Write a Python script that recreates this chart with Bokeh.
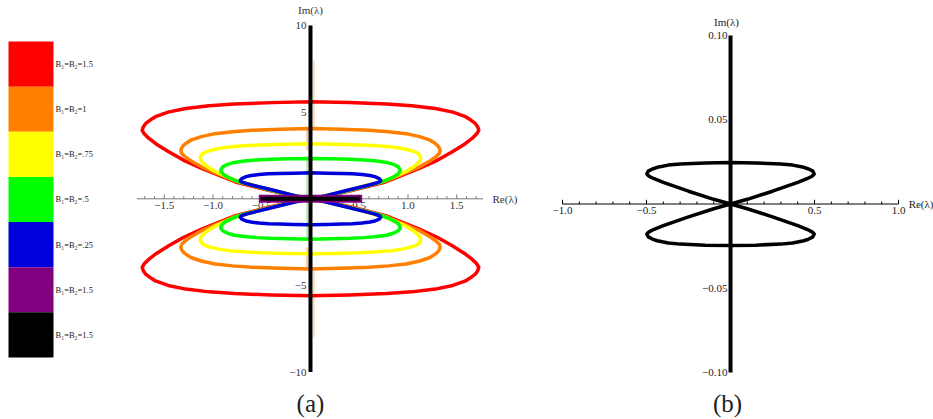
from bokeh.plotting import figure
from bokeh.layouts import row
from bokeh.models import Range1d
from bokeh.embed import file_html
from bokeh.resources import INLINE
from bokeh.core.properties import value

SERIF = value("Liberation Serif")

# ---- legend ----
legend_labels = ["B\u2081=B\u2082=1.5", "B\u2081=B\u2082=1", "B\u2081=B\u2082=.75",
                 "B\u2081=B\u2082=.5", "B\u2081=B\u2082=.25", "B\u2081=B\u2082=1.5",
                 "B\u2081=B\u2082=1.5"]
legend_colors = ["#ff0000", "#ff8000", "#ffff00", "#00ff00", "#0000dd", "#800080", "#000000"]

# ---- panel (a): one quarter of each loop (Re<=0, Im>=0), origin -> tip -> top ----
red_re = [0.00, -0.15, -0.43, -0.77, -1.11, -1.30, -1.45, -1.58, -1.66, -1.705, -1.726,
          -1.715, -1.69, -1.64, -1.59, -1.46, -1.28, -1.04, -0.78, -0.40, 0.00]
red_im = [0.00, 0.14, 0.49, 0.97, 1.74, 2.22, 2.70, 3.15, 3.50, 3.75, 3.95,
          4.15, 4.35, 4.56, 4.74, 5.00, 5.21, 5.37, 5.47, 5.55, 5.60]

orange_re = [0.00, -0.15, -0.43, -0.77, -1.11, -1.22, -1.285, -1.32, -1.33,
             -1.32, -1.30, -1.26, -1.22, -1.12, -0.98, -0.80, -0.60, -0.31, 0.00]
orange_im = [0.00, 0.15, 0.52, 1.02, 1.82, 2.17, 2.42, 2.62, 2.78,
             2.95, 3.10, 3.27, 3.40, 3.59, 3.76, 3.87, 3.95, 4.01, 4.05]

yellow_re = [0.00, -0.15, -0.43, -0.77, -0.97, -1.06, -1.105, -1.125, -1.13,
             -1.11, -1.08, -1.04, -0.955, -0.84, -0.68, -0.51, -0.26, 0.00]
yellow_im = [0.00, 0.16, 0.55, 1.07, 1.55, 1.86, 2.08, 2.24, 2.39,
             2.59, 2.69, 2.77, 2.89, 2.99, 3.06, 3.11, 3.15, 3.17]

green_re = [0.00, -0.15, -0.43, -0.70, -0.80, -0.865, -0.90, -0.915, -0.92,
            -0.90, -0.85, -0.78, -0.68, -0.55, -0.41, -0.21, 0.00]
green_im = [0.00, 0.16, 0.54, 0.92, 1.12, 1.30, 1.44, 1.56, 1.68,
            1.84, 1.99, 2.10, 2.18, 2.24, 2.28, 2.31, 2.33]

blue_re = [0.00, -0.15, -0.40, -0.56, -0.65, -0.695, -0.715, -0.72,
           -0.705, -0.66, -0.61, -0.53, -0.43, -0.32, -0.17, 0.00]
blue_im = [0.00, 0.17, 0.52, 0.74, 0.87, 0.95, 1.00, 1.06,
           1.17, 1.28, 1.34, 1.40, 1.44, 1.46, 1.48, 1.50]

# real-axis segments (purple and black) and the black imaginary-axis spectrum
purple_re = [-0.53, 0.53]
black_re = [-0.51, 0.51]
black_im = [-10.0, 10.0]

# faint imaginary-axis strands next to the black line
strand_colors = ["#ffb060", "#ff8000", "#40e040"]
strand_re = [0.035, -0.035, -0.035]
strand_lo = [4.05, 2.80, 0.20]
strand_hi = [8.00, 4.00, 2.30]

a_major = [-1.5, -1.0, -0.5, 0.5, 1.0, 1.5]
a_major_labels = ["\u22121.5", "\u22121.0", "\u22120.5", "0.5", "1.0", "1.5"]
a_minor = [round(-1.7 + 0.1 * i, 1) for i in range(35)]
a_yticks = [10, 5, -5, -10]
a_ylabels = ["10", "5", "\u22125", "\u221210"]

# ---- panel (b) ----
b_re = [0.00, -0.10, -0.25, -0.40, -0.455, -0.485, -0.498, -0.49, -0.465, -0.436,
        -0.37, -0.30, -0.15, 0.00]
b_im = [0.000, 0.0028, 0.0076, 0.0128, 0.0150, 0.0165, 0.0178, 0.0195, 0.0208, 0.0218,
        0.0231, 0.0238, 0.0244, 0.0246]
b_vert = [-0.10, 0.10]
b_major = [-1.0, -0.5, 0.5, 1.0]
b_major_labels = ["\u22121.0", "\u22120.5", "0.5", "1.0"]
b_minor = [round(-0.9 + 0.1 * i, 1) for i in range(19)]
b_yticks = [0.10, 0.05, -0.05, -0.10]
b_ylabels = ["0.10", "0.05", "\u22120.05", "\u22120.10"]


def bare(width, height, xr, yr):
    p = figure(width=width, height=height, x_range=Range1d(*xr), y_range=Range1d(*yr),
               output_backend="svg", toolbar_location=None, min_border=0,
               x_axis_location=None, y_axis_location=None)
    p.grid.visible = False
    p.outline_line_color = None
    p.background_fill_color = "white"
    p.border_fill_color = "white"
    return p


def loops(re, im):
    """Full upper loop from a quarter (mirror in Re), plus its reflection in Im."""
    up_x = list(re) + [-v for v in reversed(re)][1:]
    up_y = list(im) + list(reversed(im))[1:]
    return [up_x, up_x], [up_y, [-v for v in up_y]]


def h_axis(p, lo, hi, major, labels, minor, tick_major, tick_minor, color, label_color):
    p.segment(x0=[lo], y0=[0], x1=[hi], y1=[0], line_color=color, line_width=1)
    minor = [m for m in minor if all(abs(m - t) > 1e-9 for t in major) and abs(m) > 1e-9]
    p.segment(x0=minor, y0=[0] * len(minor), x1=minor, y1=[tick_minor] * len(minor),
              line_color=color, line_width=1)
    p.segment(x0=major, y0=[0] * len(major), x1=major, y1=[tick_major] * len(major),
              line_color=color, line_width=1)
    p.text(x=major, y=[0] * len(major), text=labels, text_font=SERIF,
           text_font_size="11px", text_align="center", text_baseline="top",
           y_offset=3, text_color=label_color)


# ---- legend figure ----
leg = bare(130, 419, (0, 130), (8.374, -0.908))
idx = list(range(len(legend_labels)))
leg.quad(left=[8] * len(idx), right=[53] * len(idx), top=idx, bottom=[i + 1 for i in idx],
         fill_color=legend_colors, line_color=None)
leg.text(x=[55] * len(idx), y=[i + 0.5 for i in idx], text=legend_labels, text_font=SERIF,
         text_font_size="8.5px", text_align="left", text_baseline="middle",
         text_color="#222222")

# ---- panel (a) ----
pa = bare(410, 419, (-1.846, 2.359), (-12.735, 11.443))
h_axis(pa, -1.78, 1.77, a_major, a_major_labels, a_minor, 0.25, 0.15, "#777777", "#333333")

for color, lo, hi, xr in zip(strand_colors, strand_lo, strand_hi, strand_re):
    pa.multi_line(xs=[[xr, xr], [xr, xr]], ys=[[lo, hi], [-lo, -hi]], line_color=color,
                  line_width=1.3, line_alpha=0.6)

for re, im, color in [(red_re, red_im, "#ff0000"), (orange_re, orange_im, "#ff8000"),
                      (yellow_re, yellow_im, "#ffff00"), (green_re, green_im, "#00ff00"),
                      (blue_re, blue_im, "#0000dd")]:
    xs, ys = loops(re, im)
    pa.multi_line(xs=xs, ys=ys, line_color=color, line_width=3.5, line_join="round")

pa.line(x=purple_re, y=[0, 0], line_color="#800080", line_width=8)
pa.line(x=black_re, y=[0, 0], line_color="#000000", line_width=4)
pa.line(x=[0, 0], y=black_im, line_color="#000000", line_width=4)

pa.text(x=[0] * len(a_yticks), y=a_yticks, text=a_ylabels, text_font=SERIF,
        text_font_size="11px", text_align="right", text_baseline="middle",
        x_offset=-4, text_color="#333333")
pa.text(x=[0], y=[10.87], text=["Im(\u03bb)"], text_font=SERIF, text_font_size="11px",
        text_align="center", text_baseline="middle", text_color="#333333")
pa.text(x=[1.867], y=[0], text=["Re(\u03bb)"], text_font=SERIF, text_font_size="11px",
        text_align="left", text_baseline="middle", text_color="#333333")
pa.text(x=[0], y=[-11.81], text=["(a)"], text_font=SERIF, text_font_size="25px",
        text_align="center", text_baseline="middle", text_color="#222222")

# ---- panel (b) ----
pb = bare(393, 419, (-1.131, 1.208), (-0.1279, 0.1208))
h_axis(pb, -1.0, 1.0, b_major, b_major_labels, b_minor, 0.0025, 0.0015, "#000000", "#222222")
xs, ys = loops(b_re, b_im)
pb.multi_line(xs=xs, ys=ys, line_color="#000000", line_width=3.5, line_join="round")
pb.line(x=[0, 0], y=b_vert, line_color="#000000", line_width=4)
pb.text(x=[0] * len(b_yticks), y=b_yticks, text=b_ylabels, text_font=SERIF,
        text_font_size="11px", text_align="right", text_baseline="middle",
        x_offset=-3, text_color="#222222")
pb.text(x=[-0.024], y=[0.1079], text=["Im(\u03bb)"], text_font=SERIF, text_font_size="11px",
        text_align="center", text_baseline="middle", text_color="#222222")
pb.text(x=[1.06], y=[0], text=["Re(\u03bb)"], text_font=SERIF, text_font_size="11px",
        text_align="left", text_baseline="middle", text_color="#222222")
pb.text(x=[-0.018], y=[-0.1184], text=["(b)"], text_font=SERIF, text_font_size="25px",
        text_align="center", text_baseline="middle", text_color="#222222")

layout = row(leg, pa, pb)
open("out.html", "w").write(file_html(layout, INLINE))
